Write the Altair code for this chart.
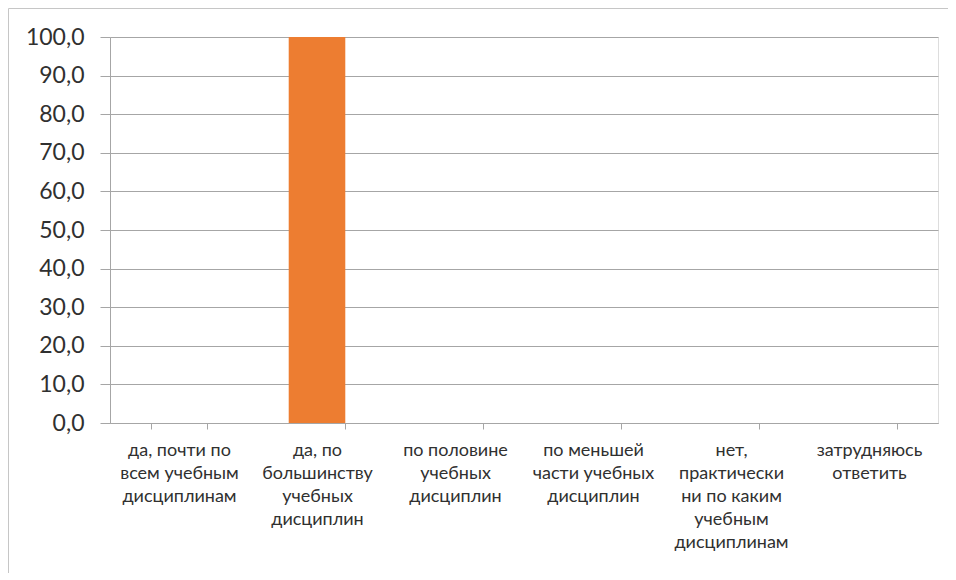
import altair as alt
import pandas as pd

categories = [
    "да, почти по|всем учебным|дисциплинам",
    "да, по|большинству|учебных|дисциплин",
    "по половине|учебных|дисциплин",
    "по меньшей|части учебных|дисциплин",
    "нет,|практически|ни по каким|учебным|дисциплинам",
    "затрудняюсь|ответить",
]
values = [0.0, 100.0, 0.0, 0.0, 0.0, 0.0]
y_ticks = [0, 10, 20, 30, 40, 50, 60, 70, 80, 90, 100]

df = pd.DataFrame({"cat": categories, "val": values})

FONT = "Lato"
GRID = "#a6a6a6"

border = alt.Chart(pd.DataFrame({"a": [0]})).mark_rect(
    fill=None, stroke="#c6c6c6", strokeWidth=1
).encode(
    x=alt.value(-101.5), x2=alt.value(900),
    y=alt.value(-28.5), y2=alt.value(600),
)

bars = alt.Chart(df).mark_bar(color="#ED7D31").encode(
    x=alt.X(
        "cat:N", sort=categories,
        scale=alt.Scale(paddingInner=0.59, paddingOuter=0.295),
        axis=alt.Axis(
            title=None, labelAngle=0, tickBand="extent",
            labelExpr="split(datum.label, '|')",
            labelFont=FONT, labelFontSize=18, labelColor="#303030",
            labelLineHeight=23, labelPadding=12, labelBaseline="top",
            domainColor=GRID, tickColor=GRID, tickSize=6, grid=False,
        ),
    ),
    y=alt.Y(
        "val:Q",
        scale=alt.Scale(domain=[0, 100], nice=False),
        axis=alt.Axis(
            title=None, values=y_ticks,
            labelExpr="replace(format(datum.value, '.1f'), '.', ',')",
            labelFont=FONT, labelFontSize=23, labelColor="#303030",
            labelPadding=16, tickSize=10, tickColor=GRID,
            domainColor=GRID, gridColor=GRID, gridWidth=1,
        ),
    ),
)

chart = alt.layer(border, bars).properties(
    width=828, height=386,
    autosize=alt.AutoSizeParams(type="none"),
    padding={"left": 102, "top": 29, "right": 10, "bottom": 150},
).configure_view(stroke=None).configure(background="white")

chart.save("out.html", embed_options={"renderer": "svg", "actions": False})
